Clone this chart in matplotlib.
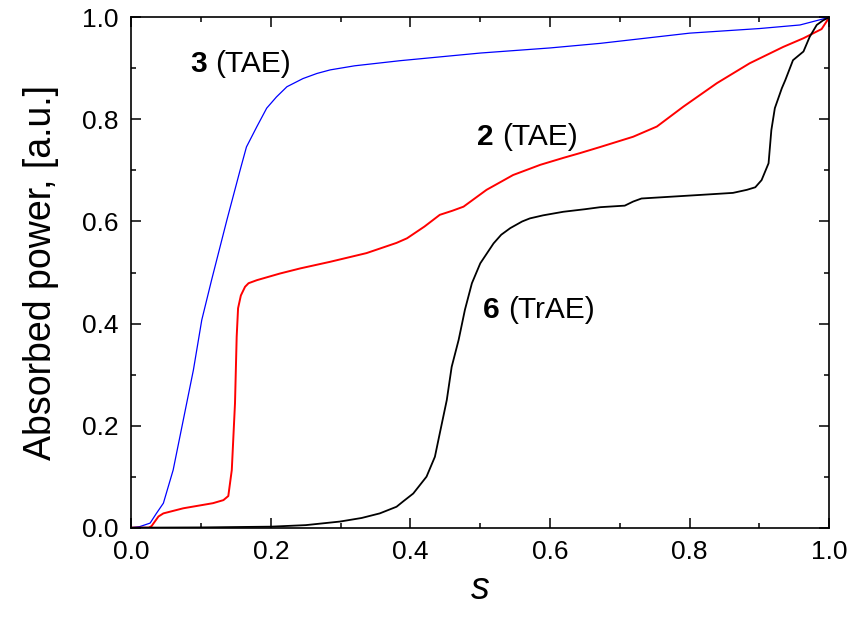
import matplotlib
matplotlib.use("Agg")
import matplotlib.pyplot as plt
from matplotlib.ticker import MultipleLocator

plt.rcParams['font.family'] = ['Liberation Sans', 'DejaVu Sans']

# curve 3 (TAE), blue
blue_s = [0.0, 0.012, 0.027, 0.036, 0.046, 0.060, 0.0745, 0.089, 0.101, 0.115, 0.137,
          0.156, 0.165, 0.180, 0.194, 0.208, 0.223, 0.246, 0.266, 0.285, 0.32, 0.385,
          0.50, 0.60, 0.672, 0.80, 0.90, 0.958, 1.0]
blue_v = [0.0, 0.002, 0.009, 0.028, 0.048, 0.113, 0.211, 0.309, 0.407, 0.485, 0.603,
          0.701, 0.746, 0.786, 0.822, 0.844, 0.864, 0.880, 0.890, 0.897, 0.905, 0.915,
          0.930, 0.940, 0.949, 0.969, 0.978, 0.985, 1.0]

# curve 2 (TAE), red
red_s = [0.0, 0.025, 0.029, 0.039, 0.046, 0.0745, 0.117, 0.132, 0.139, 0.144, 0.1486,
         0.151, 0.153, 0.157, 0.163, 0.168, 0.180, 0.213, 0.242, 0.285, 0.337, 0.38,
         0.395, 0.42, 0.442, 0.46, 0.476, 0.49, 0.509, 0.53, 0.547, 0.586, 0.62, 0.643,
         0.672, 0.719, 0.753, 0.791, 0.839, 0.886, 0.934, 0.963, 0.989, 1.0]
red_v = [0.0, 0.0, 0.003, 0.022, 0.028, 0.038, 0.048, 0.054, 0.062, 0.113, 0.244,
         0.374, 0.43, 0.455, 0.472, 0.479, 0.485, 0.498, 0.508, 0.521, 0.538, 0.558,
         0.567, 0.590, 0.613, 0.621, 0.629, 0.643, 0.662, 0.678, 0.691, 0.711, 0.725, 0.734,
         0.746, 0.766, 0.786, 0.825, 0.871, 0.910, 0.942, 0.959, 0.977, 1.0]

# curve 6 (TrAE), black
black_s = [0.0, 0.1, 0.2, 0.25, 0.299, 0.33, 0.356, 0.380, 0.39, 0.404, 0.423, 0.435,
           0.442, 0.452, 0.459, 0.469, 0.478, 0.488, 0.500, 0.519, 0.53, 0.543, 0.56,
           0.571, 0.59, 0.619, 0.65, 0.672, 0.707, 0.719, 0.731, 0.815, 0.862, 0.882,
           0.894, 0.903, 0.913, 0.917, 0.922, 0.932, 0.937, 0.948, 0.963, 0.972, 0.982,
           0.991, 1.0]
black_v = [0.0, 0.0005, 0.002, 0.005, 0.012, 0.019, 0.028, 0.041, 0.052, 0.067, 0.100,
           0.139, 0.185, 0.250, 0.315, 0.368, 0.427, 0.479, 0.518, 0.557, 0.574, 0.587,
           0.600, 0.606, 0.612, 0.619, 0.624, 0.628, 0.631, 0.639, 0.645, 0.652, 0.656,
           0.662, 0.667, 0.681, 0.714, 0.779, 0.822, 0.861, 0.877, 0.916, 0.933, 0.962,
           0.985, 0.994, 1.0]

labels = [('3', '(TAE)', 0.084, 0.893), ('2', '(TAE)', 0.495, 0.750), ('6', '(TrAE)', 0.504, 0.410)]

fig = plt.figure(figsize=(8.53, 6.23), dpi=100)
ax = fig.add_axes([0.1539, 0.1530, 0.8183, 0.8192])

ax.plot(blue_s, blue_v, color='#0000ff', lw=0.9)
ax.plot(red_s, red_v, color='#ff0000', lw=1.4)
ax.plot(black_s, black_v, color='black', lw=1.3)

for num, mode, x, y in labels:
    t = ax.text(x, y, num, fontsize=21.5, fontweight='bold')
    ax.annotate(mode, xy=(1, 0), xycoords=t, xytext=(6, 0), textcoords='offset points',
                fontsize=21.5, va='bottom', ha='left')

ax.set_xlim(0, 1)
ax.set_ylim(0, 1)
ax.xaxis.set_major_locator(MultipleLocator(0.2))
ax.xaxis.set_minor_locator(MultipleLocator(0.1))
ax.yaxis.set_major_locator(MultipleLocator(0.2))
ax.yaxis.set_minor_locator(MultipleLocator(0.1))
ax.xaxis.set_major_formatter(lambda v, p: f"{v:.1f}")
ax.yaxis.set_major_formatter(lambda v, p: f"{v:.1f}")

ax.tick_params(which='both', direction='in', top=True, right=True, labelsize=19, width=1.1)
ax.tick_params(which='major', length=7, pad=9)
ax.tick_params(which='minor', length=3.6)
for sp in ax.spines.values():
    sp.set_linewidth(1.2)

ax.set_xlabel('s', fontsize=27, fontstyle='italic', labelpad=5)
ax.set_ylabel('Absorbed power, [a.u.]', fontsize=27, labelpad=17)

fig.savefig('out.png', dpi=100)
